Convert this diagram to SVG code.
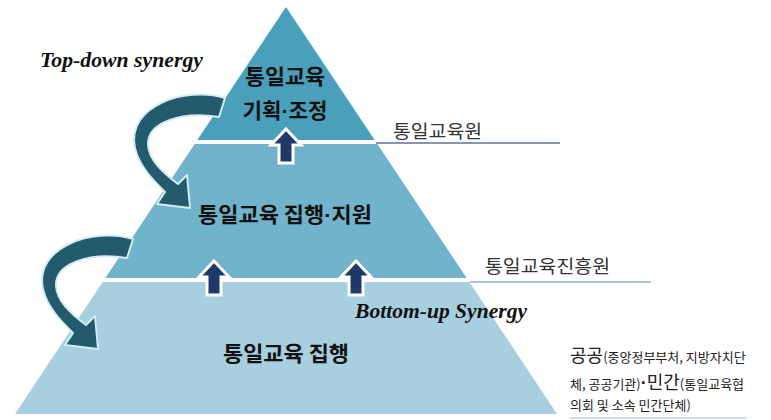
<svg xmlns="http://www.w3.org/2000/svg" xmlns:xlink="http://www.w3.org/1999/xlink" width="771" height="420" viewBox="0 0 771 420">
<style>
.kr{font-family:"Noto Sans CJK KR","Noto Sans",sans-serif;}
.tier{font-family:"Noto Sans CJK KR","Noto Sans",sans-serif;font-weight:bold;font-size:21px;fill:#111;text-anchor:middle;}
.dot{font-family:"Liberation Sans",Arial,sans-serif;font-weight:bold;}
.org{font-family:"Noto Sans CJK KR","Noto Sans",sans-serif;font-size:18px;fill:#333;}
.syn{font-family:"Liberation Serif","Times New Roman",serif;font-weight:bold;font-style:italic;font-size:21px;fill:#111;}
.sm{font-size:13px;}
.lg{font-size:18px;}
.curve{fill:#235a6c;stroke:#d3ecf4;stroke-width:2;stroke-linejoin:round;}
.up{fill:#1f3a68;stroke:#fff;stroke-width:3;stroke-linejoin:miter;}
</style>
<defs>
<path id="curveArrow" d="M225,98 C185,86 126,106 135,148 C139,166 153,180 165,192 L157,204 L190,208 L187,175 L178,184 C162,172 149,160 148,145 C147,123 180,111 219,117 Z"/>
<path id="upArrow" d="M0,0 L15,16 L7,16 L7,34 L-7,34 L-7,16 L-15,16 Z"/>
</defs>
<rect width="771" height="420" fill="#fff"/>
<g id="tier-bottom">
<polygon points="104,280 468,280 557,414 15,414" fill="#a7cfe0"/>
<text class="tier" x="286" y="361" textLength="126" lengthAdjust="spacingAndGlyphs">통일교육 집행</text>
</g>
<g id="tier-middle">
<polygon points="196,142 376,142 468,280 104,280" fill="#71b3cb"/>
<text class="tier" x="285" y="222" textLength="174" lengthAdjust="spacingAndGlyphs">통일교육 집행<tspan class="dot">·</tspan>지원</text>
</g>
<g id="tier-top">
<polygon points="286,7 376,142 196,142" fill="#4a9fba"/>
<text class="tier" x="285" y="84" textLength="80" lengthAdjust="spacingAndGlyphs">통일교육</text>
<text class="tier" x="285" y="118" textLength="85" lengthAdjust="spacingAndGlyphs">기획<tspan class="dot">·</tspan>조정</text>
</g>
<g id="separators">
<line x1="190" y1="142" x2="380" y2="142" stroke="#fff" stroke-width="4"/>
<line x1="98" y1="280" x2="472" y2="280" stroke="#fff" stroke-width="4"/>
</g>
<g id="label-unification-institute">
<line x1="376" y1="143" x2="560" y2="143" stroke="#8a93b5" stroke-width="2"/>
<text class="org" x="393" y="138" textLength="89" lengthAdjust="spacingAndGlyphs">통일교육원</text>
</g>
<g id="label-promotion-institute">
<line x1="470" y1="282" x2="651" y2="282" stroke="#a9c6d6" stroke-width="2"/>
<text class="org" x="485" y="273" textLength="125" lengthAdjust="spacingAndGlyphs">통일교육진흥원</text>
</g>
<g id="label-public-private">
<line x1="570" y1="418" x2="747" y2="418" stroke="#c9e0ea" stroke-width="2"/>
<text class="kr" x="570" y="362" fill="#222"><tspan class="lg">공공</tspan><tspan class="sm">(중앙정부부처, 지방자치단</tspan></text>
<text class="kr" x="570" y="389" fill="#222"><tspan class="sm">체, 공공기관)</tspan><tspan class="lg dot">·</tspan><tspan class="lg">민간</tspan><tspan class="sm">(통일교육협</tspan></text>
<text class="kr sm" x="570" y="410" fill="#222">의회 및 소속 민간단체)</text>
</g>
<g id="synergy-labels">
<text class="syn" x="40" y="67" textLength="163" lengthAdjust="spacingAndGlyphs">Top-down synergy</text>
<text class="syn" x="355" y="318" textLength="172" lengthAdjust="spacingAndGlyphs">Bottom-up Synergy</text>
</g>
<g id="connectors">
<use xlink:href="#curveArrow" class="curve"/>
<use xlink:href="#curveArrow" class="curve" transform="translate(-92,141)"/>
<use xlink:href="#upArrow" class="up" transform="translate(286,129)"/>
<use xlink:href="#upArrow" class="up" transform="translate(214,261)"/>
<use xlink:href="#upArrow" class="up" transform="translate(356,261)"/>
</g>
</svg>
